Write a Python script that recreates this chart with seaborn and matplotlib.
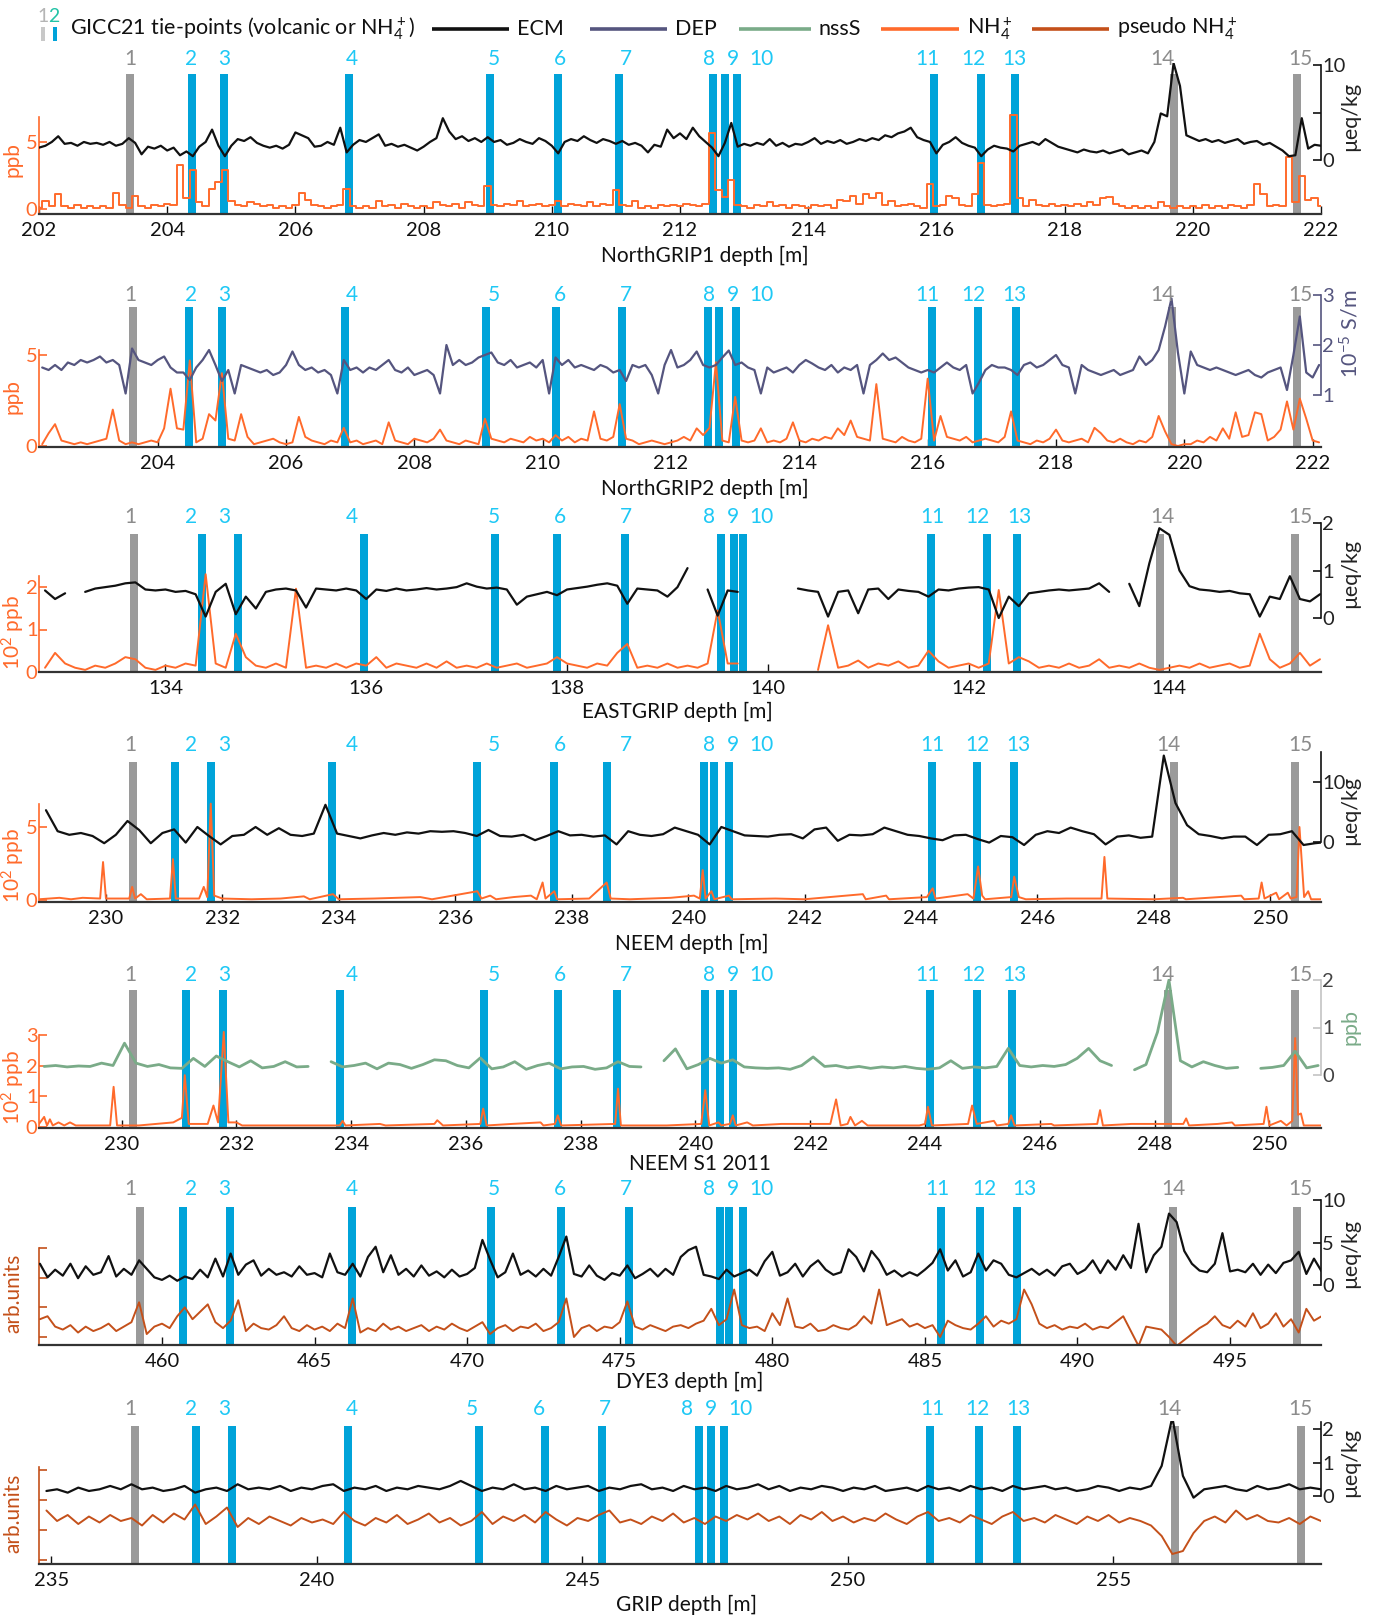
import numpy as np
import pandas as pd
import matplotlib
matplotlib.use("Agg")
import matplotlib.pyplot as plt
from matplotlib.patches import Rectangle
import seaborn as sns

sns.set_style("white")
plt.rcParams["font.family"] = ["Lato", "DejaVu Sans"]
plt.rcParams["mathtext.default"] = "regular"
plt.rcParams["axes.unicode_minus"] = False

# ======================= DATA =======================
TIE_IDS = list(range(1, 16))
GRAY_TIES = (1, 14, 15)

# ---- NorthGRIP1 ----
NG1_XLIM = (202.0, 222.0)
NG1_XTICKS = list(range(202, 223, 2))
NG1_TIES = [203.42, 204.39, 204.88, 206.83, 209.03, 210.09, 211.05, 212.52, 212.70,
            212.89, 215.97, 216.70, 217.22, 219.70, 221.62]
NG1_START, NG1_STEP = 202.0, 0.1
NG1_ECM = [1.3, 1.5, 1.9, 2.5, 1.7, 1.8, 1.5, 1.9, 1.7, 1.8,
           1.6, 1.9, 1.5, 1.7, 2.3, 1.8, 0.6, 1.4, 1.2, 1.5,
           1.0, 1.3, 0.5, 0.9, 0.4, 1.4, 1.9, 3.2, 1.5, 0.4,
           1.5, 2.2, 2.0, 2.4, 1.8, 1.5, 1.3, 1.5, 1.2, 1.6,
           2.9, 2.6, 2.3, 1.4, 1.5, 1.9, 1.6, 3.4, 0.8, 1.6,
           2.1, 1.9, 2.3, 2.7, 1.5, 1.7, 1.4, 1.6, 1.3, 1.0,
           1.4, 1.9, 2.3, 4.4, 3.0, 2.2, 2.5, 2.0, 2.3, 1.9,
           2.4, 1.9, 2.1, 1.6, 1.8, 2.2, 1.9, 1.7, 2.3, 2.0,
           1.5, 0.7, 1.9, 2.2, 2.0, 2.5, 2.1, 1.8, 2.2, 2.0,
           1.7, 2.0, 1.6, 1.8, 1.5, 0.8, 1.6, 1.4, 3.2, 2.3,
           2.8, 2.2, 3.4, 2.5, 1.9, 1.3, 0.4, 1.8, 3.9, 1.4,
           1.7, 1.5, 1.8, 1.6, 2.2, 1.5, 1.8, 1.4, 1.7, 1.6,
           1.9, 2.3, 1.7, 2.0, 1.8, 2.1, 1.7, 1.9, 2.2, 2.0,
           2.3, 2.1, 2.6, 2.4, 2.8, 3.0, 3.4, 2.4, 2.1, 1.9,
           0.7, 1.6, 1.9, 2.4, 1.8, 1.5, 1.3, 0.4, 1.1, 1.5,
           1.3, 1.2, 0.9, 1.5, 1.7, 1.9, 1.6, 2.2, 1.8, 1.4,
           1.2, 1.0, 0.8, 1.1, 0.9, 0.8, 1.0, 0.7, 0.9, 1.1,
           0.6, 0.8, 1.0, 0.7, 1.9, 4.9, 4.6, 10.2, 7.8, 2.6,
           2.3, 2.0, 2.2, 1.9, 2.1, 1.8, 2.0, 2.2, 1.7, 1.9,
           2.0, 1.6, 1.8, 1.4, 1.0, 0.4, 0.5, 4.4, 1.2, 1.6,
           1.5]
NG1_NH4 = [0.1, 0.6, 0.2, 1.1, 0.2, 0.1, 0.3, 0.1, 0.2, 0.1,
           0.2, 0.1, 1.2, 0.3, 0.1, 1.0, 0.2, 0.1, 0.3, 0.2,
           0.4, 0.3, 3.3, 0.8, 2.9, 0.5, 0.2, 1.5, 2.0, 2.9,
           0.6, 0.3, 0.2, 0.5, 0.4, 0.2, 0.3, 0.1, 0.2, 0.1,
           0.3, 1.2, 0.7, 0.3, 0.2, 0.1, 0.2, 0.3, 1.5, 0.2,
           0.1, 0.2, 0.1, 0.6, 0.2, 0.3, 0.1, 0.4, 0.2, 0.1,
           0.2, 0.1, 0.5, 0.3, 0.2, 0.4, 0.1, 0.5, 0.3, 0.2,
           1.7, 0.3, 0.2, 0.4, 0.3, 0.6, 0.2, 0.3, 0.4, 0.2,
           0.3, 0.6, 0.2, 0.4, 0.3, 0.2, 0.5, 0.2, 0.4, 0.3,
           1.4, 0.3, 0.2, 0.6, 0.1, 0.2, 0.1, 0.3, 0.2, 0.3,
           0.2, 0.4, 0.3, 0.2, 0.4, 5.7, 1.4, 0.9, 2.2, 0.3,
           0.2, 0.1, 0.3, 0.2, 0.5, 0.2, 0.3, 0.1, 0.3, 0.2,
           0.1, 0.3, 0.2, 0.3, 0.1, 0.7, 0.6, 1.0, 0.4, 1.1,
           0.8, 1.2, 0.3, 0.6, 0.2, 0.3, 0.4, 0.2, 0.1, 1.9,
           0.2, 0.3, 1.0, 0.8, 0.3, 0.2, 1.1, 3.4, 0.3, 0.2,
           0.3, 0.4, 7.0, 0.8, 0.2, 0.7, 0.3, 0.2, 0.4, 0.2,
           0.3, 0.2, 0.4, 0.2, 0.5, 0.3, 0.8, 0.9, 0.4, 0.2,
           0.1, 0.2, 0.1, 0.2, 0.1, 0.5, 0.2, 0.1, 0.2, 0.1,
           0.2, 0.1, 0.3, 0.1, 0.2, 0.1, 0.3, 0.2, 0.1, 0.3,
           1.9, 1.1, 0.2, 0.3, 0.2, 3.9, 0.5, 2.5, 0.7, 0.8,
           0.2]

# ---- NorthGRIP2 ----
NG2_XLIM = (202.15, 222.13)
NG2_XTICKS = list(range(204, 223, 2))
NG2_TIES = [203.62, 204.49, 205.00, 206.92, 209.11, 210.20, 211.24, 212.57, 212.75,
            213.02, 216.06, 216.79, 217.37, 219.81, 221.75]
NG2_START, NG2_STEP = 202.2, 0.1
NG2_DEP = [1.55, 1.5, 1.6, 1.5, 1.65, 1.6, 1.7, 1.65, 1.7, 1.77,
           1.65, 1.7, 1.6, 1.03, 1.93, 1.7, 1.65, 1.6, 1.7, 1.77,
           1.55, 1.45, 1.45, 1.3, 1.55, 1.7, 1.9, 1.6, 1.28, 1.5,
           1.03, 1.6, 1.55, 1.5, 1.45, 1.5, 1.4, 1.45, 1.6, 1.87,
           1.6, 1.5, 1.55, 1.45, 1.5, 1.4, 1.03, 1.7, 1.5, 1.55,
           1.45, 1.55, 1.5, 1.6, 1.7, 1.5, 1.45, 1.55, 1.4, 1.45,
           1.5, 1.4, 1.03, 2.0, 1.6, 1.7, 1.6, 1.65, 1.75, 1.8,
           1.85, 1.65, 1.6, 1.7, 1.55, 1.6, 1.65, 1.55, 1.7, 1.03,
           1.75, 1.6, 1.7, 1.55, 1.6, 1.55, 1.5, 1.6, 1.55, 1.45,
           1.5, 1.28, 1.6, 1.55, 1.6, 1.4, 1.03, 1.6, 1.9, 1.55,
           1.6, 1.7, 1.87, 1.6, 1.55, 1.6, 1.75, 1.89, 1.6, 1.65,
           1.55, 1.5, 1.03, 1.55, 1.45, 1.5, 1.55, 1.45, 1.6, 1.7,
           1.63, 1.55, 1.5, 1.6, 1.45, 1.55, 1.5, 1.6, 1.03, 1.6,
           1.7, 1.83, 1.7, 1.75, 1.65, 1.55, 1.5, 1.45, 1.5, 1.45,
           1.55, 1.65, 1.55, 1.5, 1.6, 1.03, 1.25, 1.5, 1.6, 1.55,
           1.55, 1.5, 1.4, 1.6, 1.65, 1.55, 1.6, 1.7, 1.8, 1.6,
           1.55, 1.03, 1.6, 1.5, 1.45, 1.4, 1.45, 1.5, 1.4, 1.45,
           1.5, 1.77, 1.6, 1.7, 1.9, 2.37, 2.93, 1.85, 1.03, 1.87,
           1.6, 1.55, 1.5, 1.55, 1.5, 1.45, 1.4, 1.45, 1.5, 1.4,
           1.35, 1.45, 1.5, 1.55, 1.1, 1.8, 2.57, 1.45, 1.35, 1.6]
NG2_NH4 = [0.1, 0.7, 1.2, 0.3, 0.2, 0.1, 0.2, 0.1, 0.2, 0.3,
           0.4, 2.0, 0.3, 0.1, 0.2, 0.1, 0.2, 0.3, 0.2, 0.97,
           3.15, 0.97, 0.9, 4.7, 0.2, 0.4, 1.75, 1.4, 4.0, 0.4,
           0.3, 1.75, 0.5, 0.1, 0.2, 0.3, 0.4, 0.2, 0.1, 0.2,
           1.6, 0.5, 0.3, 0.2, 0.1, 0.3, 0.2, 1.0, 0.2, 0.3,
           0.1, 0.2, 0.3, 0.1, 1.3, 0.3, 0.2, 0.1, 0.4, 0.3,
           0.2, 0.4, 0.9, 0.3, 0.2, 0.1, 0.3, 0.2, 0.1, 1.5,
           0.4, 0.3, 0.2, 0.4, 0.3, 0.2, 0.5, 0.3, 0.4, 0.2,
           0.6, 0.3, 0.5, 0.2, 0.4, 0.3, 1.9, 0.4, 0.3, 0.5,
           2.3, 0.4, 0.3, 0.1, 0.2, 0.3, 0.2, 0.1, 0.2, 0.3,
           0.5, 0.3, 0.97, 0.6, 1.0, 4.6, 0.3, 0.2, 2.7, 0.3,
           0.2, 0.3, 0.97, 0.2, 0.3, 0.2, 0.4, 1.3, 0.3, 0.2,
           0.4, 0.3, 0.5, 0.4, 0.97, 0.6, 1.4, 0.5, 0.4, 0.3,
           3.4, 0.4, 0.3, 0.2, 0.5, 0.3, 0.2, 0.4, 3.7, 0.3,
           1.65, 0.5, 0.4, 0.3, 0.5, 0.2, 0.3, 0.4, 0.3, 0.2,
           0.5, 1.9, 0.3, 0.2, 0.1, 0.3, 0.2, 0.4, 0.9, 0.3,
           0.2, 0.3, 0.4, 0.2, 1.0, 0.7, 0.3, 0.2, 0.4, 0.2,
           0.1, 0.3, 0.2, 0.5, 1.65, 0.8, 0.1, 0.0, 0.1, 0.1,
           0.3, 0.2, 0.5, 0.3, 0.97, 0.4, 1.85, 0.5, 0.6, 1.85,
           1.75, 0.3, 0.5, 0.9, 2.45, 0.9, 2.6, 1.5, 0.3, 0.2]

# ---- EASTGRIP ----
EG_XLIM = (132.74, 145.51)
EG_XTICKS = [134, 136, 138, 140, 142, 144]
EG_TIES = [133.69, 134.36, 134.72, 135.98, 137.28, 137.90, 138.58, 139.53, 139.66,
           139.75, 141.63, 142.18, 142.48, 143.91, 145.25]
EG_START, EG_STEP = 132.8, 0.1
nan = float("nan")
EG_ECM = [0.58, 0.40, 0.52, nan, 0.55, 0.62, 0.65, 0.68, 0.73, 0.75,
          0.60, 0.58, 0.60, 0.55, 0.57, 0.50, 0.03, 0.55, 0.72, 0.08,
          0.45, 0.20, 0.55, 0.60, 0.62, 0.58, 0.22, 0.62, 0.60, 0.58,
          0.62, 0.58, 0.40, 0.60, 0.57, 0.62, 0.58, 0.60, 0.63, 0.60,
          0.62, 0.65, 0.73, 0.66, 0.62, 0.64, 0.60, 0.28, 0.45, 0.50,
          0.55, 0.48, 0.60, 0.63, 0.66, 0.70, 0.73, 0.68, 0.30, 0.62,
          0.60, 0.58, 0.45, 0.65, 1.05, nan, 0.60, 0.05, 0.58, 0.55,
          nan, nan, nan, nan, nan, 0.62, 0.58, 0.55, 0.03, 0.55,
          0.58, 0.10, 0.60, 0.62, 0.40, 0.60, 0.57, 0.55, 0.45, 0.60,
          0.58, 0.62, 0.64, 0.65, 0.60, 0.0, 0.45, 0.25, 0.52, 0.55,
          0.58, 0.60, 0.58, 0.60, 0.62, 0.73, 0.55, nan, 0.72, 0.25,
          1.15, 1.89, 1.75, 1.0, 0.67, 0.60, 0.58, 0.55, 0.57, 0.52,
          0.50, 0.03, 0.45, 0.40, 0.88, 0.40, 0.35, 0.50]
EG_NH4 = [0.1, 0.45, 0.2, 0.1, 0.05, 0.15, 0.1, 0.2, 0.35, 0.3,
          0.1, 0.05, 0.15, 0.1, 0.2, 0.15, 2.3, 0.2, 0.1, 0.9,
          0.35, 0.15, 0.1, 0.2, 0.1, 1.96, 0.1, 0.15, 0.1, 0.2,
          0.1, 0.2, 0.15, 0.35, 0.1, 0.2, 0.15, 0.1, 0.2, 0.1,
          0.25, 0.1, 0.15, 0.1, 0.2, 0.1, 0.15, 0.2, 0.1, 0.15,
          0.2, 0.35, 0.2, 0.15, 0.1, 0.2, 0.15, 0.45, 0.66, 0.1,
          0.15, 0.1, 0.2, 0.1, 0.15, 0.1, 0.2, 1.45, 0.2, 0.2,
          nan, nan, nan, nan, nan, nan, nan, 0.05, 1.1, 0.1,
          0.15, 0.27, 0.1, 0.2, 0.15, 0.25, 0.1, 0.15, 0.5, 0.25,
          0.1, 0.15, 0.2, 0.1, 0.2, 1.93, 0.2, 0.35, 0.25, 0.1,
          0.15, 0.1, 0.2, 0.1, 0.15, 0.3, 0.1, 0.15, 0.1, 0.2,
          0.1, 0.05, 0.1, 0.15, 0.1, 0.2, 0.1, 0.15, 0.2, 0.1,
          0.15, 0.9, 0.3, 0.1, 0.2, 0.45, 0.15, 0.3]

# ---- NEEM ----
NM_XLIM = (228.85, 250.87)
NM_XTICKS = list(range(230, 251, 2))
NM_TIES = [230.46, 231.19, 231.81, 233.89, 236.38, 237.69, 238.60, 240.28, 240.45,
           240.70, 244.19, 244.96, 245.60, 248.34, 250.43]
NM_ECM_START, NM_ECM_STEP = 228.97, 0.2
NM_ECM = [5.3, 1.8, 1.2, 1.5, 1.0, -0.2, 1.2, 3.5, 2.0, -0.2,
          1.5, 2.1, -0.1, 2.5, 1.0, -0.4, 1.0, 1.2, 2.5, 1.2,
          2.3, 1.2, 1.0, 1.4, 6.2, 1.4, 1.0, 0.6, 1.1, 1.5,
          1.2, 1.6, 1.4, 1.8, 1.7, 1.8, 1.5, 1.0, 2.0, 1.0,
          0.9, 1.2, 0.3, 1.0, 1.8, 1.1, 1.2, 0.9, 1.1, -0.4,
          1.8, 1.2, 1.0, 1.3, 2.4, 1.8, 1.2, -0.4, 2.5, 1.8,
          1.1, 1.0, 0.9, 1.2, 1.3, 0.6, 2.1, 2.4, 0.2, 1.2,
          1.1, 1.3, 2.4, 1.8, 1.2, 1.0, 0.6, 0.3, 1.1, 1.2,
          0.5, -0.1, 1.0, 0.8, -0.5, 1.2, 1.8, 1.5, 2.4, 1.8,
          1.3, -0.4, 0.9, 1.1, 0.7, 0.9, 14.4, 6.5, 2.8, 1.3,
          1.0, 0.6, 0.9, 0.9, -0.5, 1.2, 1.3, 1.8, -0.5, -0.2,
          0.0]
NM_NH4_DEPTH = [228.85, 229.2, 229.4, 229.6, 229.9, 229.95, 230.0, 230.4, 230.45, 230.5,
                230.6, 230.7, 231.1, 231.15, 231.2, 231.6, 231.68, 231.74, 231.8, 231.86,
                232.0, 232.5, 233.0, 233.4, 233.5, 233.9, 234.0, 234.6, 235.4, 235.6,
                236.38, 236.45, 236.6, 236.7, 237.0, 237.3, 237.4, 237.5, 237.55, 237.7,
                237.75, 238.3, 238.6, 238.67, 239.0, 239.7, 240.1, 240.2, 240.25, 240.3,
                240.4, 240.45, 240.7, 240.75, 241.5, 242.0, 243.0, 243.05, 243.4, 243.45,
                244.1, 244.2, 244.25, 244.8, 244.9, 244.98, 245.05, 245.1, 245.55, 245.6,
                245.68, 245.8, 246.5, 247.1, 247.15, 247.2, 248.0, 248.5, 248.55, 249.5,
                249.55, 249.8, 249.85, 249.9, 250.1, 250.15, 250.3, 250.35, 250.45, 250.5,
                250.58, 250.65, 250.7, 250.87]
NM_NH4 = [0.05, 0.15, 0.05, 0.15, 0.1, 2.6, 0.1, 0.1, 0.9, 0.1,
          0.4, 0.05, 0.1, 2.8, 0.1, 0.1, 0.9, 0.2, 6.6, 0.3,
          0.1, 0.05, 0.1, 0.25, 0.05, 0.4, 0.05, 0.1, 0.2, 0.05,
          0.6, 0.1, 0.3, 0.05, 0.2, 0.3, 0.05, 1.2, 0.1, 0.6,
          0.05, 0.1, 1.2, 0.1, 0.05, 0.15, 0.3, 0.1, 2.05, 0.1,
          0.6, 0.05, 0.3, 0.05, 0.1, 0.05, 0.4, 0.05, 0.3, 0.05,
          0.2, 0.8, 0.1, 0.4, 0.1, 2.3, 0.3, 0.05, 0.2, 1.6,
          0.2, 0.05, 0.1, 0.1, 2.95, 0.1, 0.05, 0.15, 0.05, 0.3,
          0.05, 0.1, 1.2, 0.1, 0.5, 0.05, 0.5, 0.1, 0.2, 5.0,
          0.2, 0.6, 0.05, 0.05]

# ---- NEEM S1 2011 ----
NS_XLIM = (228.56, 250.9)
NS_XTICKS = list(range(230, 251, 2))
NS_TIES = [230.20, 231.12, 231.77, 233.80, 236.31, 237.60, 238.63, 240.16, 240.43,
           240.65, 244.09, 244.90, 245.51, 248.23, 250.45]
NS_NSSS_START, NS_NSSS_STEP = 228.65, 0.2
NS_NSSS = [0.18, 0.2, 0.17, 0.19, 0.18, 0.25, 0.2, 0.67, 0.25, 0.18,
           0.22, 0.15, 0.14, 0.35, 0.18, 0.4, 0.28, 0.17, 0.3, 0.15,
           0.18, 0.28, 0.17, 0.18, nan, 0.28, 0.17, 0.2, 0.25, 0.13,
           0.25, 0.22, 0.14, 0.22, 0.32, 0.3, 0.2, 0.15, 0.36, 0.13,
           0.17, 0.28, 0.12, 0.2, 0.25, 0.13, 0.17, 0.18, 0.12, 0.15,
           0.28, 0.18, 0.17, nan, 0.3, 0.55, 0.13, 0.22, 0.35, 0.25,
           0.32, 0.17, 0.15, 0.14, 0.15, 0.12, 0.2, 0.38, 0.18, 0.2,
           0.15, 0.18, 0.14, 0.17, 0.15, 0.18, 0.14, 0.12, 0.15, 0.3,
           0.14, 0.17, 0.15, 0.18, 0.56, 0.2, 0.17, 0.2, 0.18, 0.22,
           0.35, 0.56, 0.3, 0.2, nan, 0.11, 0.22, 0.9, 2.0, 0.3,
           0.17, 0.28, 0.2, 0.14, 0.16, nan, 0.14, 0.16, 0.2, 0.5,
           0.15, 0.2]
NS_NH4_DEPTH = [228.56, 228.65, 228.7, 228.75, 228.8, 228.9, 229.0, 229.1, 229.2, 229.8,
                229.86, 229.92, 230.3, 230.6, 230.9, 231.05, 231.1, 231.17, 231.5, 231.6,
                231.68, 231.78, 231.86, 232.0, 232.1, 233.0, 233.8, 233.85, 233.9, 234.5,
                234.6, 235.45, 235.5, 235.6, 236.25, 236.3, 236.36, 236.8, 237.3, 237.35,
                237.55, 237.6, 237.66, 238.6, 238.65, 238.7, 239.5, 240.1, 240.17, 240.24,
                240.4, 240.45, 240.6, 240.65, 240.7, 240.9, 241.0, 241.5, 242.35, 242.45,
                242.53, 242.65, 242.7, 242.78, 242.9, 243.0, 243.9, 244.0, 244.05, 244.12,
                244.75, 244.82, 244.9, 245.2, 245.25, 245.45, 245.5, 245.56, 246.2, 246.25,
                247.0, 247.05, 247.1, 247.6, 248.0, 248.5, 248.55, 248.6, 249.1, 249.35,
                249.4, 249.9, 249.95, 250.0, 250.2, 250.3, 250.4, 250.45, 250.5, 250.55,
                250.6, 250.9]
NS_NH4 = [0.1, 0.33, 0.05, 0.25, 0.05, 0.15, 0.05, 0.15, 0.05, 0.05,
          1.31, 0.05, 0.05, 0.1, 0.15, 0.3, 1.69, 0.1, 0.1, 0.7,
          0.15, 3.1, 0.15, 0.15, 0.05, 0.05, 0.05, 0.2, 0.05, 0.1,
          0.05, 0.1, 0.22, 0.05, 0.1, 0.6, 0.05, 0.1, 0.15, 0.05,
          0.1, 0.38, 0.05, 0.1, 1.25, 0.05, 0.05, 0.1, 1.2, 0.05,
          0.15, 0.05, 0.1, 0.38, 0.05, 0.15, 0.05, 0.1, 0.1, 0.9,
          0.05, 0.1, 0.33, 0.05, 0.2, 0.05, 0.05, 0.1, 0.66, 0.05,
          0.1, 0.7, 0.1, 0.2, 0.05, 0.1, 0.38, 0.05, 0.1, 0.05,
          0.1, 0.55, 0.05, 0.1, 0.1, 0.1, 0.28, 0.05, 0.1, 0.15,
          0.05, 0.1, 0.66, 0.05, 0.2, 0.05, 0.2, 2.9, 0.4, 0.44,
          0.05, 0.05]

# ---- DYE3 ----
DY_XLIM = (455.97, 497.98)
DY_XTICKS = [460, 465, 470, 475, 480, 485, 490, 495]
DY_TIES = [459.29, 460.68, 462.24, 466.24, 470.78, 473.08, 475.29, 478.27, 478.58,
           479.05, 485.53, 486.81, 488.03, 493.12, 497.19]
DY_START, DY_STEP = 456.0, 0.25
DY_ECM = [2.5, 0.9, 1.8, 1.1, 2.5, 0.8, 2.2, 1.2, 1.5, 3.4,
          1.0, 1.9, 1.2, 2.9, 1.9, 0.9, 0.6, 1.1, 0.5, 1.0,
          0.7, 1.8, 0.9, 3.1, 1.0, 3.7, 1.2, 2.4, 2.9, 1.1,
          1.9, 1.2, 1.5, 1.0, 2.2, 1.2, 1.4, 0.9, 3.7, 1.5,
          1.2, 2.5, 1.0, 3.3, 4.5, 1.5, 3.5, 1.2, 1.9, 1.0,
          2.3, 1.1, 1.6, 0.9, 1.8, 1.0, 1.3, 2.0, 5.3, 3.0,
          0.9, 1.5, 3.7, 1.2, 1.7, 1.0, 1.9, 1.1, 3.3, 5.7,
          1.3, 1.0, 2.3, 1.1, 0.6, 1.4, 1.1, 2.3, 0.8, 1.3,
          1.9, 1.0, 1.9, 1.2, 3.3, 4.1, 4.5, 1.2, 1.0, 0.7,
          1.8, 1.0, 1.4, 1.8, 1.1, 2.8, 3.9, 1.1, 1.5, 2.5,
          1.0, 2.2, 2.9, 1.8, 1.2, 1.5, 4.2, 3.3, 1.6, 4.0,
          2.9, 1.2, 1.7, 1.0, 1.5, 1.1, 1.8, 2.6, 4.2, 1.7,
          2.9, 1.0, 1.5, 3.7, 1.7, 2.9, 2.5, 1.2, 0.9, 1.4,
          1.9, 1.2, 1.8, 1.1, 2.2, 2.5, 1.3, 1.8, 2.9, 1.4,
          2.9, 1.8, 3.5, 2.0, 7.2, 1.5, 3.5, 4.5, 8.4, 7.4,
          4.0, 2.5, 1.7, 1.5, 2.5, 6.1, 1.6, 1.8, 1.5, 2.5,
          1.2, 2.4, 1.4, 2.6, 2.9, 3.9, 1.3, 3.1, 1.6]
DY_PSEUDO = [0.6, 0.7, 0.35, 0.25, 0.4, 0.15, 0.35, 0.2, 0.3, 0.45,
             0.2, 0.35, 0.5, 1.17, 0.1, 0.35, 0.45, 0.3, 0.7, 1.0,
             0.6, 0.85, 1.1, 0.5, 0.3, 0.55, 1.24, 0.2, 0.45, 0.3,
             0.25, 0.4, 0.7, 0.3, 0.2, 0.4, 0.25, 0.35, 0.2, 0.45,
             0.3, 1.3, 0.15, 0.3, 0.2, 0.45, 0.25, 0.35, 0.2, 0.3,
             0.4, 0.2, 0.35, 0.25, 0.45, 0.3, 0.2, 0.35, 0.5, 0.1,
             0.3, 0.4, 0.2, 0.35, 0.3, 0.45, 0.2, 0.3, 0.5, 1.3,
             0.0, 0.3, 0.4, 0.2, 0.35, 0.3, 0.5, 1.2, 0.35, 0.25,
             0.4, 0.3, 0.2, 0.35, 0.4, 0.3, 0.45, 0.55, 0.95, 0.4,
             0.6, 1.6, 0.4, 0.3, 0.35, 0.2, 0.8, 0.4, 1.3, 0.35,
             0.3, 0.45, 0.2, 0.25, 0.4, 0.3, 0.25, 0.4, 0.7, 0.45,
             1.6, 0.4, 0.5, 0.6, 0.35, 0.45, 0.3, 0.4, 0.0, 0.55,
             0.4, 0.3, 0.25, 0.45, 0.7, 0.35, 0.55, 0.45, 0.6, 1.6,
             1.1, 0.45, 0.3, 0.4, 0.25, 0.35, 0.3, 0.45, 0.25, 0.35,
             0.3, 0.5, 0.7, 0.2, -0.3, 0.35, 0.3, 0.25, 0.0, -0.3,
             -0.1, 0.1, 0.3, 0.45, 0.7, 0.4, 0.3, 0.55, 0.35, 0.8,
             0.3, 0.45, 0.8, 0.35, 0.6, 0.15, 0.95, 0.55, 0.7]

# ---- GRIP ----
GR_XLIM = (234.77, 258.91)
GR_XTICKS = [235, 240, 245, 250, 255]
GR_TIES = [236.58, 237.73, 238.41, 240.59, 243.06, 244.29, 245.38, 247.19, 247.42,
           247.66, 251.55, 252.47, 253.19, 256.17, 258.54]
GR_START, GR_STEP = 234.91, 0.2
GR_ECM = [0.15, 0.2, 0.1, 0.25, 0.15, 0.2, 0.3, 0.2, 0.35, 0.2,
          0.25, 0.15, 0.2, 0.3, 0.1, 0.2, 0.25, 0.15, 0.35, 0.2,
          0.25, 0.2, 0.3, 0.15, 0.25, 0.2, 0.3, 0.35, 0.15, 0.25,
          0.2, 0.3, 0.15, 0.25, 0.2, 0.3, 0.25, 0.2, 0.3, 0.45,
          0.3, 0.15, 0.25, 0.2, 0.35, 0.2, 0.25, 0.15, 0.3, 0.2,
          0.25, 0.3, 0.15, 0.25, 0.2, 0.3, 0.35, 0.2, 0.25, 0.15,
          0.3, 0.2, 0.25, 0.15, 0.3, 0.2, 0.25, 0.35, 0.2, 0.3,
          0.15, 0.25, 0.2, 0.3, 0.25, 0.15, 0.25, 0.2, 0.3, 0.15,
          0.2, 0.25, 0.15, 0.3, 0.2, 0.25, 0.15, 0.3, 0.2, 0.25,
          0.15, 0.3, 0.2, 0.25, 0.3, 0.2, 0.25, 0.15, 0.2, 0.3,
          0.25, 0.15, 0.25, 0.2, 0.3, 0.9, 2.35, 0.6, -0.05, 0.2,
          0.25, 0.3, 0.2, 0.15, 0.3, 0.2, 0.25, 0.35, 0.2, 0.25,
          0.2]
GR_PSEUDO = [1.65, 1.3, 1.5, 1.2, 1.45, 1.25, 1.5, 1.3, 1.4, 1.15,
             1.5, 1.25, 1.55, 1.35, 1.85, 1.2, 1.45, 1.75, 1.1, 1.4,
             1.2, 1.45, 1.3, 1.15, 1.4, 1.25, 1.35, 1.2, 1.6, 1.3,
             1.15, 1.4, 1.25, 1.5, 1.2, 1.35, 1.55, 1.25, 1.4, 1.15,
             1.3, 1.6, 1.2, 1.45, 1.3, 1.5, 1.25, 1.6, 1.35, 1.15,
             1.4, 1.3, 1.5, 1.65, 1.25, 1.35, 1.2, 1.45, 1.3, 1.55,
             1.25, 1.4, 1.2, 1.45, 1.3, 1.5, 1.35, 1.55, 1.3, 1.45,
             1.2, 1.5, 1.35, 1.6, 1.3, 1.45, 1.25, 1.4, 1.3, 1.55,
             1.35, 1.2, 1.45, 1.6, 1.3, 1.4, 1.25, 1.5, 1.35, 1.2,
             1.45, 1.6, 1.3, 1.4, 1.25, 1.5, 1.35, 1.2, 1.45, 1.3,
             1.5, 1.25, 1.4, 1.3, 1.15, 0.8, 0.2, 0.3, 0.9, 1.3,
             1.45, 1.25, 1.65, 1.35, 1.5, 1.3, 1.25, 1.4, 1.2, 1.45,
             1.3]

# ======================= STYLE / LAYOUT =======================
W, H = 1386, 1621
L_PX, R_PX = 39, 1321
BLACK = "#111111"
ORANGE = "#ff6a2b"
PSEUDO_C = "#c4501a"
DEP_C = "#55557f"
NSSS_C = "#7aab88"
BAR_BLUE = "#00a3d9"
BAR_GRAY = "#9a9a9a"
TIE_BLUE = "#1ec8f5"
TIE_GRAY = "#8c8c8c"
S = 1 / 0.9675  # display->full px

LAB_DEFAULT = [126, 185, 217, 340, 478, 542, 606, 686, 709, 737, 897, 942, 981, 1125, 1258]
LAB_EG = [126, 185, 217, 340, 478, 542, 606, 686, 709, 737, 902, 946, 986, 1125, 1258]
LAB_NM = [126, 185, 217, 340, 478, 542, 606, 686, 709, 737, 902, 946, 985, 1130, 1258]
LAB_DY = [126, 185, 217, 340, 478, 542, 606, 686, 709, 737, 907, 952, 991, 1135, 1258]
LAB_GR = [126, 185, 217, 340, 457, 521, 585, 665, 688, 716, 902, 946, 985, 1131, 1258]


def grid(start, step, vals):
    return start + step * np.arange(len(vals))


panels = [
    dict(xlim=NG1_XLIM, xticks=NG1_XTICKS, ties=NG1_TIES, top=63, bottom=214, bartop=74,
         lx=grid(NG1_START, NG1_STEP, NG1_NH4), ly=NG1_NH4, lcol=ORANGE, lstep=True,
         rx=grid(NG1_START, NG1_STEP, NG1_ECM), ry=NG1_ECM, rcol=BLACK, rlw=1.6,
         lref=(0, 209, 5, 142), rref=(0, 160, 10, 65), lspine=6.9, rspine=(0, 10),
         lticks=[0, 5], llabels=["0", "5"], rticks=[0, 5, 10], rlabels=["0", "", "10"],
         rspinecol=BLACK, rlabcol="#222222", lylabel="ppb", rylabel="µeq/kg", rylabcol="#222222",
         labx=LAB_DEFAULT, laby=59, xlabel="NorthGRIP1 depth [m]", xlx=705, xly=256,
         lyly=160, ryly=116),
    dict(xlim=NG2_XLIM, xticks=NG2_XTICKS, ties=NG2_TIES, top=290, bottom=447, bartop=307,
         lx=grid(NG2_START, NG2_STEP, NG2_NH4), ly=NG2_NH4, lcol=ORANGE, lstep=False,
         rx=grid(NG2_START, NG2_STEP, NG2_DEP), ry=NG2_DEP, rcol=DEP_C, rlw=1.6,
         lref=(0, 446, 5, 355), rref=(1, 395, 3, 295), lspine=5.3, rspine=(1, 3),
         lticks=[0, 5], llabels=["0", "5"], rticks=[1, 2, 3], rlabels=["1", "2", "3"],
         rspinecol=DEP_C, rlabcol=DEP_C, lylabel="ppb", rylabel="$10^{-5}$ S/m", rylabcol=DEP_C,
         labx=LAB_DEFAULT, laby=295, xlabel="NorthGRIP2 depth [m]", xlx=705, xly=489,
         lyly=397, ryly=334),
    dict(xlim=EG_XLIM, xticks=EG_XTICKS, ties=EG_TIES, top=523, bottom=672, bartop=534,
         lx=grid(EG_START, EG_STEP, EG_NH4), ly=EG_NH4, lcol=ORANGE, lstep=False,
         rx=grid(EG_START, EG_STEP, EG_ECM), ry=EG_ECM, rcol=BLACK, rlw=1.6,
         lref=(0, 672, 2, 587), rref=(0, 618, 2, 523), lspine=2.25, rspine=(0, 2),
         lticks=[0, 1, 2], llabels=["0", "1", "2"], rticks=[0, 1, 2], rlabels=["0", "1", "2"],
         rspinecol=BLACK, rlabcol="#222222", lylabel="10$^2$ ppb", rylabel="µeq/kg", rylabcol="#222222",
         labx=LAB_EG, laby=517, xlabel="EASTGRIP depth [m]", xlx=677, xly=712,
         lyly=633, ryly=573),
    dict(xlim=NM_XLIM, xticks=NM_XTICKS, ties=NM_TIES, top=752, bottom=902, bartop=762,
         lx=np.array(NM_NH4_DEPTH), ly=NM_NH4, lcol=ORANGE, lstep=False,
         rx=grid(NM_ECM_START, NM_ECM_STEP, NM_ECM), ry=NM_ECM, rcol=BLACK, rlw=1.6,
         lref=(0, 900, 5, 827), rref=(0, 842, 10, 782), lspine=6.6, rspine=(0, 15),
         lticks=[0, 5], llabels=["0", "5"], rticks=[0, 10], rlabels=["0", "10"],
         rspinecol=BLACK, rlabcol="#222222", lylabel="10$^2$ ppb", rylabel="µeq/kg", rylabcol="#222222",
         labx=LAB_NM, laby=745, xlabel="NEEM depth [m]", xlx=692, xly=944,
         lyly=866, ryly=810),
    dict(xlim=NS_XLIM, xticks=NS_XTICKS, ties=NS_TIES, top=979, bottom=1128, bartop=990,
         lx=np.array(NS_NH4_DEPTH), ly=NS_NH4, lcol=ORANGE, lstep=False,
         rx=grid(NS_NSSS_START, NS_NSSS_STEP, NS_NSSS), ry=NS_NSSS, rcol=NSSS_C, rlw=2.0,
         lref=(0, 1127, 3, 1035), rref=(0, 1075, 2, 980), lspine=3.0, rspine=(0, 2),
         lticks=[0, 1, 2, 3], llabels=["0", "1", "2", "3"], rticks=[0, 1, 2], rlabels=["0", "1", "2"],
         rspinecol="#c4c4c4", rlabcol="#444444", lylabel="10$^2$ ppb", rylabel="ppb", rylabcol=NSSS_C,
         labx=LAB_DEFAULT, laby=975, xlabel="NEEM S1 2011", xlx=700, xly=1164,
         lyly=1088, ryly=1027),
    dict(xlim=DY_XLIM, xticks=DY_XTICKS, ties=DY_TIES, top=1195, bottom=1345, bartop=1207,
         lx=grid(DY_START, DY_STEP, DY_PSEUDO), ly=DY_PSEUDO, lcol=PSEUDO_C, lstep=False,
         rx=grid(DY_START, DY_STEP, DY_ECM), ry=DY_ECM, rcol=BLACK, rlw=1.6,
         lref=(0, 1337, 3, 1248), rref=(0, 1285, 10, 1200), lspine=3.0, rspine=(0, 10),
         lticks=[0, 1, 2, 3], llabels=["", "", "", ""], rticks=[0, 5, 10], rlabels=["0", "5", "10"],
         rspinecol=BLACK, rlabcol="#222222", lylabel="arb.units", rylabel="µeq/kg", rylabcol="#222222",
         labx=LAB_DY, laby=1189, xlabel="DYE3 depth [m]", xlx=690, xly=1382,
         lyly=1293, ryly=1253),
    dict(xlim=GR_XLIM, xticks=GR_XTICKS, ties=GR_TIES, top=1421, bottom=1564, bartop=1426,
         lx=grid(GR_START, GR_STEP, GR_PSEUDO), ly=GR_PSEUDO, lcol=PSEUDO_C, lstep=False,
         rx=grid(GR_START, GR_STEP, GR_ECM), ry=GR_ECM, rcol=BLACK, rlw=1.6,
         lref=(0, 1560, 3, 1470), rref=(0, 1496, 2, 1429), lspine=3.1, rspine=(0, 2.2),
         lticks=[0, 1, 2, 3], llabels=["", "", "", ""], rticks=[0, 1, 2], rlabels=["0", "1", "2"],
         rspinecol=BLACK, rlabcol="#222222", lylabel="arb.units", rylabel="µeq/kg", rylabcol="#222222",
         labx=LAB_GR, laby=1409, xlabel="GRIP depth [m]", xlx=687, xly=1605,
         lyly=1513, ryly=1462),
]


def draw_series(ax, x, y, color, lw, step=False):
    df = pd.DataFrame({"x": np.asarray(x, float), "y": np.asarray(y, float)})
    df["seg"] = df["y"].isna().cumsum()
    df = df.dropna()
    kw = {}
    if step:
        kw["drawstyle"] = "steps-mid"
    sns.lineplot(data=df, x="x", y="y", units="seg", estimator=None, sort=False,
                 color=color, lw=lw, legend=False, ax=ax, **kw)
    ax.set_xlabel("")
    ax.set_ylabel("")


fig = plt.figure(figsize=(W / 100, H / 100), dpi=100)

for p in panels:
    T, B = p["top"], p["bottom"]
    ax = fig.add_axes([L_PX / W, 1 - B / H, (R_PX - L_PX) / W, (B - T) / H])
    ax.patch.set_alpha(0)
    axr = ax.twinx()

    # tie-point bars
    xr = p["xlim"][1] - p["xlim"][0]
    bw = 8 * xr / (R_PX - L_PX)
    ymax = (B - p["bartop"]) / (B - T)
    for tid, d in zip(TIE_IDS, p["ties"]):
        ax.axvspan(d - bw / 2, d + bw / 2, ymin=0, ymax=ymax,
                   color=BAR_GRAY if tid in GRAY_TIES else BAR_BLUE, lw=0, zorder=1)

    draw_series(ax, p["lx"], p["ly"], p["lcol"], 1.4, step=p["lstep"])
    draw_series(axr, p["rx"], p["ry"], p["rcol"], p["rlw"])

    def lim(ref):
        v0, y0, v1, y1 = ref
        s = (y0 - y1) / (v1 - v0)
        return (v0 - (B - y0) / s, v0 + (y0 - T) / s)

    lylim = lim(p["lref"])
    ax.set_xlim(*p["xlim"])
    axr.set_xlim(*p["xlim"])
    ax.set_ylim(*lylim)
    axr.set_ylim(*lim(p["rref"]))

    # spines
    for sp in ("top", "right"):
        ax.spines[sp].set_visible(False)
    for sp in ("top", "left", "bottom"):
        axr.spines[sp].set_visible(False)
    ax.spines["bottom"].set_color("#333333")
    ax.spines["bottom"].set_linewidth(1.6)
    ax.spines["left"].set_color(p["lcol"])
    ax.spines["left"].set_linewidth(1.2)
    ax.spines["left"].set_bounds(lylim[0], p["lspine"])
    axr.spines["right"].set_color(p["rspinecol"])
    axr.spines["right"].set_linewidth(1.2)
    axr.spines["right"].set_bounds(*p["rspine"])

    # ticks
    ax.set_xticks(p["xticks"])
    ax.set_xticklabels([str(t) for t in p["xticks"]])
    ax.tick_params(axis="x", bottom=True, direction="in", length=6, width=1,
                   colors="#111111", labelsize=14.5, pad=6)
    ax.set_yticks(p["lticks"])
    ax.set_yticklabels(p["llabels"])
    ax.tick_params(axis="y", left=True, direction="in", length=6, width=1.2,
                   color=p["lcol"], labelcolor=p["lcol"], labelsize=14.5, pad=1)
    axr.set_yticks(p["rticks"])
    axr.set_yticklabels(p["rlabels"])
    axr.tick_params(axis="y", right=True, direction="in", length=6, width=1.2,
                    color=p["rspinecol"], labelcolor=p["rlabcol"], labelsize=14.5, pad=1)

# ---------------- overlay: labels & legend ----------------
ov = fig.add_axes([0, 0, 1, 1], zorder=10)
ov.set_xlim(0, W)
ov.set_ylim(H, 0)
ov.axis("off")

for p in panels:
    for tid, xd in zip(TIE_IDS, p["labx"]):
        ov.text(xd * S, p["laby"], str(tid), ha="center", va="center", fontsize=15,
                color=TIE_GRAY if tid in GRAY_TIES else TIE_BLUE)
    ov.text(p["xlx"], p["xly"], p["xlabel"], ha="center", va="center", fontsize=15, color="#111111")
    ov.text(13, p["lyly"], p["lylabel"], ha="center", va="center", rotation=90,
            fontsize=15, color=p["lcol"])
    ov.text(1350, p["ryly"], p["rylabel"], ha="center", va="center", rotation=90,
            fontsize=15.5, color=p["rylabcol"])

# legend
LY = 29
ov.text(43, 16, "1", ha="center", va="center", fontsize=14, color="#b5b5b5")
ov.text(54, 16, "2", ha="center", va="center", fontsize=14, color="#22c3a6")
ov.add_patch(Rectangle((41, 27), 4, 14, color="#c8c8c8", lw=0))
ov.add_patch(Rectangle((53, 27), 4, 14, color=BAR_BLUE, lw=0))
ov.text(70, LY, "GICC21 tie-points (volcanic or NH$_4^+$)", ha="left", va="center",
        fontsize=15.5, color="#111111")
legend_items = [(432, 509, BLACK, "ECM"), (590, 667, DEP_C, "DEP"), (739, 811, NSSS_C, "nssS"),
                (881, 959, ORANGE, "NH$_4^+$"), (1032, 1109, PSEUDO_C, "pseudo NH$_4^+$")]
for x0, x1, c, t in legend_items:
    ov.plot([x0, x1], [LY, LY], color=c, lw=2.6, solid_capstyle="butt")
    ov.text(x1 + 8, LY, t, ha="left", va="center", fontsize=15.5, color="#111111")

fig.savefig("out.png", dpi=100)
